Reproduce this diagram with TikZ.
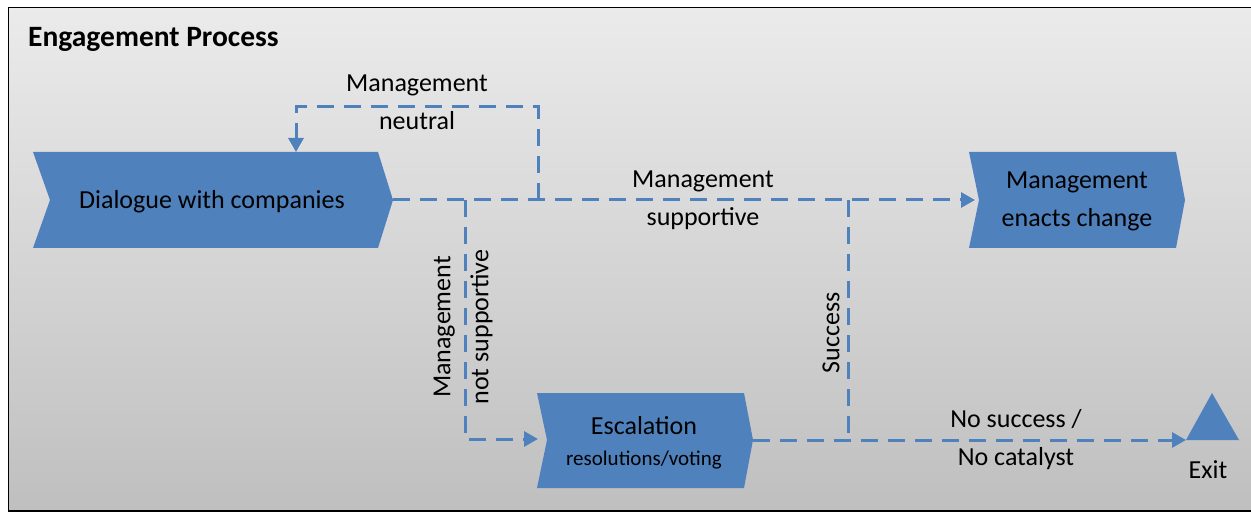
\documentclass[tikz,border=0pt]{standalone}
\usepackage{fontspec}
\setmainfont{Carlito}
\usetikzlibrary{arrows.meta}
\definecolor{accent}{HTML}{4F81BD}
\definecolor{bgtop}{HTML}{EBEBEB}
\definecolor{bgbot}{HTML}{BFBFBF}
\begin{document}
\begin{tikzpicture}[x=1pt,y=-1pt,
  conn/.style={draw=accent, line width=3pt, dash pattern=on 17pt off 10pt},
  arr/.style={-{Triangle[length=14pt,width=15pt]}},
  lbl/.style={inner sep=0pt, align=center, font=\fontsize{26}{38}\selectfont},
  small/.style={inner sep=0pt, align=center, font=\fontsize{21}{26}\selectfont},
  chev/.style={fill=accent}]
\useasboundingbox (0,0) rectangle (1251,513);
% background panel
\shade[top color=bgtop, bottom color=bgbot] (8.5,7.5) rectangle (1253,511);
\draw[line width=1.6pt] (1253,7.5) -- (8.5,7.5) -- (8.5,511) -- (1253,511);
\node[anchor=west, inner sep=0pt, font=\fontsize{29.5}{32}\selectfont\bfseries] (title) at (28,39) {Engagement Process};
% chevrons
\fill[chev] (33,152) -- (378,152) -- (393,200) -- (378,248) -- (33,248) -- (50,200) -- cycle;
\fill[chev] (969,152) -- (1176,152) -- (1185,200) -- (1176,248) -- (969,248) -- (979,200) -- cycle;
\fill[chev] (537,393) -- (744,393) -- (753,440) -- (744,488) -- (537,488) -- (547,440) -- cycle;
\fill[chev] (1212,393) -- (1239,440) -- (1186,440) -- cycle;
\node[lbl] (dlg) at (212,202) {Dialogue with companies};
\node[lbl] (enact) at (1077,201) {Management\\enacts change};
\node[lbl] (esc) at (644,426) {Escalation};
\node[small] (escsub) at (644,460) {resolutions/voting};
\node[lbl] (exit) at (1208,470) {Exit};
% connector points
\coordinate (dlgtip) at (393,200);
\coordinate (enactin) at (975,200);
\coordinate (neutralsplit) at (538,200);
\coordinate (neutraltop) at (538,107);
\coordinate (neutralleft) at (296,107);
\coordinate (dlgtop) at (296,152);
\coordinate (notsplit) at (465,200);
\coordinate (notcorner) at (465,439);
\coordinate (escin) at (538,439);
\coordinate (succsplit) at (848,200);
\coordinate (succjoin) at (848,440);
\coordinate (esctip) at (753,440);
\coordinate (exitin) at (1186,440);
% connectors
\draw[conn, arr] (dlgtip) -- (enactin);
\draw[conn, arr] (neutralsplit) -- (neutraltop) -- (neutralleft) -- (dlgtop);
\draw[conn, arr] (notsplit) -- (notcorner) -- (escin);
\draw[conn] (succsplit) -- (succjoin);
\draw[conn, arr] (esctip) -- (exitin);
% labels
\node[lbl] (lneutral) at (417,102) {Management\\neutral};
\node[lbl] (lsupp) at (703,200) {Management\\supportive};
\node[lbl, rotate=90] (lnot) at (463,327) {Management\\not supportive};
\node[lbl, rotate=90] (lsucc) at (831,333) {Success};
\node[lbl] (lnosucc) at (1016,440) {No success /\\No catalyst};
\end{tikzpicture}
\end{document}
